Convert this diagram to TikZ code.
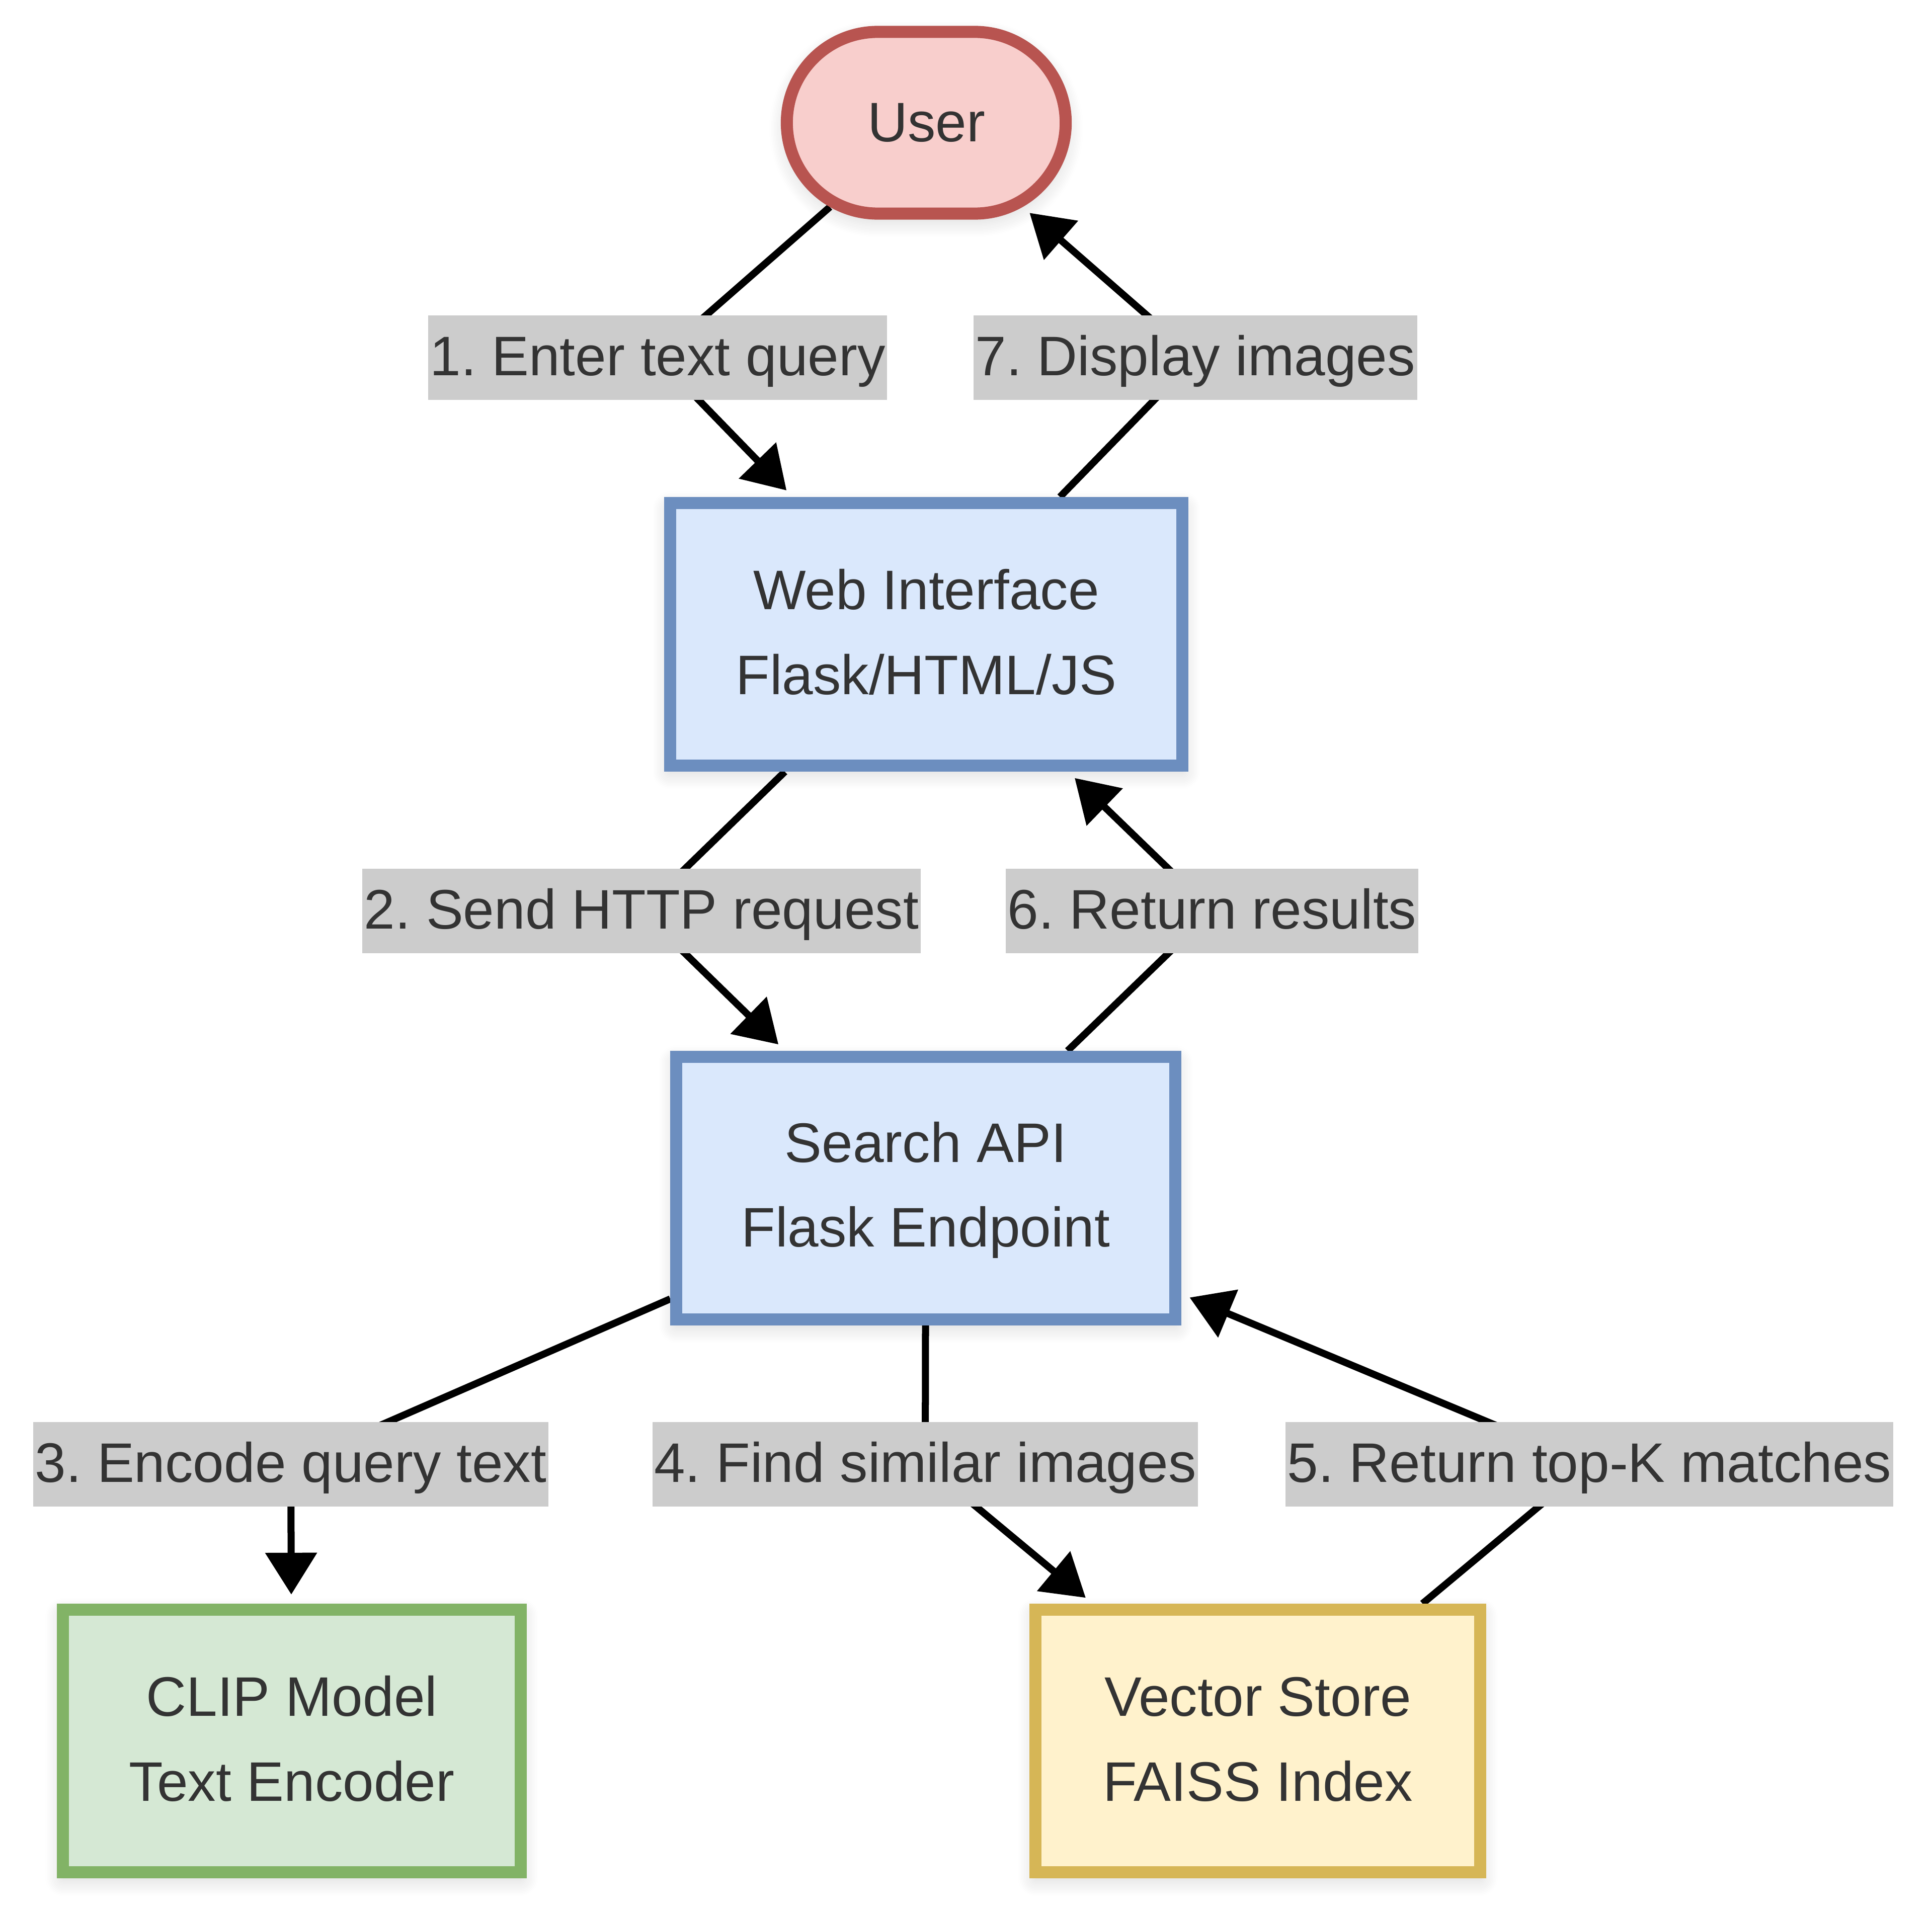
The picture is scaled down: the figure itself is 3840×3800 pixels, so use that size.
\documentclass[tikz,border=0pt]{standalone}
\usepackage{fontspec}
\setmainfont{Liberation Sans}
\usetikzlibrary{arrows.meta,shapes.misc,shadows.blur}
\pgfdeclarelayer{bg}
\pgfsetlayers{bg,main}
\definecolor{txt}{HTML}{333333}
\definecolor{lblgray}{HTML}{CCCCCC}
\definecolor{userfill}{HTML}{F8CECC}
\definecolor{userdraw}{HTML}{B85450}
\definecolor{bluefill}{HTML}{DAE8FC}
\definecolor{bluedraw}{HTML}{6C8EBF}
\definecolor{greenfill}{HTML}{D5E8D4}
\definecolor{greendraw}{HTML}{82B366}
\definecolor{yellowfill}{HTML}{FFF2CC}
\definecolor{yellowdraw}{HTML}{D6B656}
\frenchspacing
\begin{document}
\frenchspacing
\begin{tikzpicture}[x=0.01cm,y=-0.01cm,
  box/.style={draw, line width=0.24cm, minimum height=5.22cm, inner sep=0pt,
    align=center, text=txt, font=\fontsize{31.5}{48}\selectfont,
    blur shadow={shadow xshift=0pt, shadow yshift=-0.12cm,
      shadow blur radius=0.35cm, shadow blur steps=12, shadow opacity=18}},
  lbl/.style={fill=lblgray, text=txt, inner xsep=1pt, inner ysep=0pt,
    minimum height=1.68cm, text height=25pt, text depth=5pt,
    font=\fontsize{31.5}{38}\selectfont},
  edge/.style={line width=0.14cm, draw=black,
    -{Triangle[length=0.83cm,width=1.0cm]}, shorten >=0.18cm}]
\useasboundingbox (0,0) rectangle (3840,3800);

\node[box, rounded rectangle, fill=userfill, draw=userdraw,
  minimum width=5.54cm, minimum height=3.61cm] (user) at (1841,244) {User};
\node[box, fill=bluefill, draw=bluedraw, minimum width=10.18cm] (web) at (1841,1261)
  {\rule{0pt}{25pt}Web Interface\\Flask/HTML/JS\rule[-5pt]{0pt}{5pt}};
\node[box, fill=bluefill, draw=bluedraw, minimum width=9.91cm] (search) at (1840,2362)
  {\rule{0pt}{25pt}Search API\\Flask Endpoint\rule[-5pt]{0pt}{5pt}};
\node[box, fill=greenfill, draw=greendraw, minimum width=9.09cm] (clip) at (580,3461)
  {\rule{0pt}{25pt}CLIP Model\\Text Encoder\rule[-5pt]{0pt}{5pt}};
\node[box, fill=yellowfill, draw=yellowdraw, minimum width=8.83cm] (vec) at (2500,3461)
  {\rule{0pt}{25pt}Vector Store\\FAISS Index\rule[-5pt]{0pt}{5pt}};

\node[lbl] (l1) at (1307,711) {1. Enter text query};
\node[lbl] (l7) at (2376,711) {7. Display images};
\node[lbl] (l2) at (1275,1811) {2. Send HTTP request};
\node[lbl] (l6) at (2409,1811) {6. Return results};
\node[lbl] (l3) at (578,2911) {3. Encode query text};
\node[lbl] (l4) at (1839,2911) {4. Find similar images};
\node[lbl] (l5) at (3159,2911) {5. Return top-K matches};

\begin{pgfonlayer}{bg}
\draw[edge] (user) -- (l1.center) -- (web);
\draw[edge] (web) -- (l7.center) -- (user);
\draw[edge] (web) -- (l2.center) -- (search);
\draw[edge] (search) -- (l6.center) -- (web);
\draw[edge] (search) -- (l3.center) -- (clip);
\draw[edge] (search) -- (l4.center) -- (vec);
\draw[edge] (vec) -- (l5.center) -- (search);
\end{pgfonlayer}
\end{tikzpicture}
\end{document}
